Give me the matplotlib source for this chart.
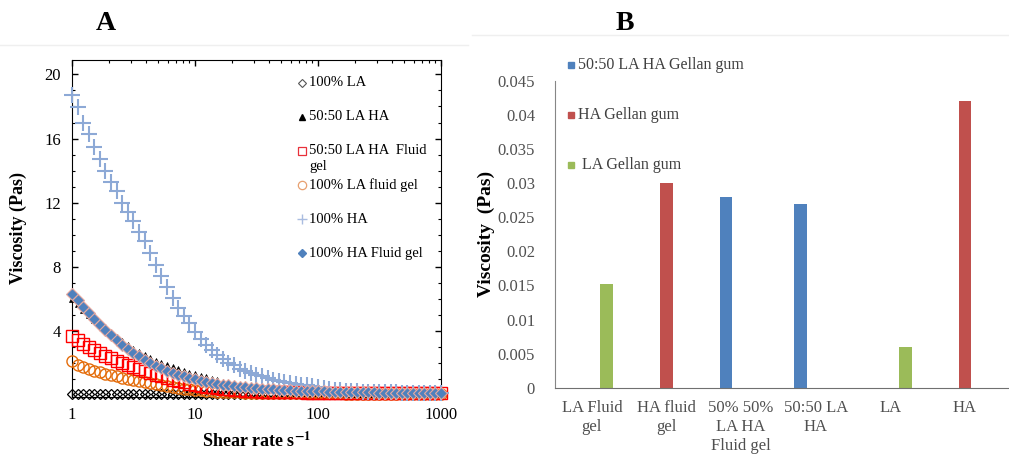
import matplotlib
matplotlib.use('Agg')
import matplotlib.pyplot as plt
from matplotlib.lines import Line2D

plt.rcParams['font.family'] = ['Liberation Serif', 'DejaVu Serif']
plt.rcParams['mathtext.fontset'] = 'stix'

# ---- panel A: flow curves (viscosity vs shear rate) ----
shear_rate = [1.00, 1.11, 1.23, 1.37, 1.52, 1.69, 1.87, 2.08, 2.31, 2.56, 2.85,
              3.16, 3.51, 3.90, 4.33, 4.81, 5.34, 5.93, 6.58, 7.31, 8.11, 9.01,
              10.0, 11.1, 12.3, 13.7, 15.2, 16.9, 18.7, 20.8, 23.1, 25.6, 28.5,
              31.6, 35.1, 39.0, 43.3, 48.1, 53.4, 59.3, 65.8, 73.1, 81.1, 90.1,
              100, 111, 123, 137, 152, 169, 187, 208, 231, 256, 285,
              316, 351, 390, 433, 481, 534, 593, 658, 731, 811, 901, 1000]

la_100 = [0.08, 0.08, 0.07, 0.07, 0.07, 0.07, 0.07, 0.07, 0.06, 0.06, 0.06,
          0.06, 0.06, 0.06, 0.06, 0.06, 0.06, 0.06, 0.06, 0.06, 0.06, 0.06,
          0.06, 0.06, 0.06, 0.06, 0.06, 0.06, 0.06, 0.06, 0.05, 0.05, 0.05,
          0.05, 0.05, 0.05, 0.05, 0.05, 0.05, 0.05, 0.05, 0.05, 0.05, 0.05,
          0.05, 0.05, 0.05, 0.05, 0.05, 0.05, 0.05, 0.05, 0.05, 0.05, 0.05,
          0.05, 0.05, 0.05, 0.05, 0.05, 0.05, 0.05, 0.05, 0.05, 0.05, 0.05, 0.05]

la_ha_5050 = [6.0, 5.65, 5.3, 5.0, 4.7, 4.4, 4.1, 3.85, 3.6, 3.35, 3.1,
              2.9, 2.7, 2.5, 2.32, 2.15, 2.0, 1.86, 1.73, 1.61, 1.5, 1.4,
              1.3, 1.2, 1.1, 1.0, 0.92, 0.84, 0.77, 0.7, 0.64, 0.58, 0.53,
              0.48, 0.44, 0.4, 0.37, 0.34, 0.31, 0.29, 0.27, 0.25, 0.23, 0.22,
              0.21, 0.2, 0.19, 0.18, 0.17, 0.16, 0.15, 0.15, 0.14, 0.14, 0.13,
              0.13, 0.12, 0.12, 0.12, 0.11, 0.11, 0.11, 0.1, 0.1, 0.1, 0.1, 0.1]

la_ha_5050_fg = [3.7, 3.45, 3.2, 3.0, 2.8, 2.62, 2.45, 2.3, 2.15, 2.0, 1.87,
                 1.74, 1.62, 1.5, 1.38, 1.27, 1.16, 1.06, 0.96, 0.87, 0.79, 0.72,
                 0.65, 0.59, 0.53, 0.48, 0.43, 0.39, 0.35, 0.32, 0.29, 0.27, 0.25,
                 0.23, 0.22, 0.21, 0.2, 0.19, 0.18, 0.18, 0.17, 0.17, 0.16, 0.16,
                 0.16, 0.15, 0.15, 0.15, 0.15, 0.14, 0.14, 0.14, 0.14, 0.14, 0.13,
                 0.13, 0.13, 0.13, 0.13, 0.13, 0.12, 0.12, 0.12, 0.12, 0.12, 0.12, 0.12]

la_fg = [2.1, 1.9, 1.76, 1.64, 1.53, 1.42, 1.33, 1.24, 1.16, 1.08, 1.01,
         0.94, 0.87, 0.8, 0.74, 0.68, 0.62, 0.56, 0.5, 0.45, 0.4, 0.36,
         0.32, 0.29, 0.26, 0.24, 0.22, 0.2, 0.19, 0.18, 0.17, 0.16, 0.15,
         0.15, 0.14, 0.14, 0.13, 0.13, 0.12, 0.12, 0.12, 0.11, 0.11, 0.11,
         0.1, 0.1, 0.1, 0.1, 0.1, 0.09, 0.09, 0.09, 0.09, 0.09, 0.09,
         0.08, 0.08, 0.08, 0.08, 0.08, 0.08, 0.08, 0.08, 0.08, 0.08, 0.08, 0.08]

ha_100 = [18.7, 17.95, 17.0, 16.3, 15.45, 14.75, 14.0, 13.3, 12.7, 12.0, 11.4,
          10.85, 10.2, 9.6, 8.85, 8.1, 7.4, 6.75, 6.05, 5.45, 4.95, 4.5,
          3.95, 3.5, 3.15, 2.8, 2.5, 2.25, 2.02, 1.85, 1.62, 1.52, 1.4,
          1.28, 1.17, 1.05, 0.95, 0.88, 0.82, 0.76, 0.71, 0.65, 0.6, 0.55,
          0.48, 0.43, 0.38, 0.34, 0.31, 0.28, 0.26, 0.24, 0.22, 0.21, 0.2,
          0.19, 0.18, 0.17, 0.17, 0.16, 0.16, 0.15, 0.15, 0.14, 0.14, 0.13, 0.13]

ha_fg = [6.3, 5.9, 5.5, 5.1, 4.75, 4.4, 4.05, 3.75, 3.45, 3.15, 2.9,
         2.65, 2.42, 2.2, 2.0, 1.83, 1.67, 1.53, 1.4, 1.28, 1.17, 1.07,
         0.98, 0.9, 0.83, 0.76, 0.7, 0.65, 0.6, 0.56, 0.52, 0.48, 0.45,
         0.42, 0.39, 0.37, 0.35, 0.33, 0.31, 0.29, 0.28, 0.27, 0.26, 0.25,
         0.24, 0.23, 0.22, 0.21, 0.2, 0.2, 0.19, 0.18, 0.18, 0.17, 0.17,
         0.16, 0.16, 0.15, 0.15, 0.15, 0.14, 0.14, 0.14, 0.13, 0.13, 0.13, 0.12]

# ---- panel B: bar chart ----
bar_labels = ['LA Fluid\ngel', 'HA fluid\ngel', '50% 50%\nLA HA\nFluid gel',
              '50:50 LA\nHA', 'LA', 'HA']
gg_5050 = [0, 0, 0.028, 0.027, 0, 0]
gg_ha = [0, 0.030, 0, 0, 0, 0.042]
gg_la = [0.0152, 0, 0, 0, 0.006, 0]
b_ticks = [0, 0.005, 0.01, 0.015, 0.02, 0.025, 0.03, 0.035, 0.04, 0.045]
b_ticklabels = ['0', '0.005', '0.01', '0.015', '0.02', '0.025', '0.03',
                '0.035', '0.04', '0.045']

W, H = 1009, 457
fig = plt.figure(figsize=(W / 100, H / 100), dpi=100)


def box(l, t, r, b):
    return [l / W, 1 - b / H, (r - l) / W, (b - t) / H]


# faint frames of the pasted panels
fig.add_artist(Line2D([0, 468 / W], [1 - 45 / H, 1 - 45 / H], color='#efefef', lw=1))
fig.add_artist(Line2D([472 / W, 1], [1 - 35 / H, 1 - 35 / H], color='#efefef', lw=1))

axA = fig.add_axes(box(72, 60, 441, 397))

styles = [
    # data, label, style, zorder
    (la_100, '100% LA', dict(marker='D', ms=5.5, mfc='none', mec='black', mew=0.9), 2),
    (la_fg, '100% LA fluid gel', dict(marker='o', ms=8, mfc='none', mec='#E46C0A', mew=1.0), 3),
    (la_ha_5050_fg, '50:50 LA HA  Fluid gel', dict(marker='s', ms=8, mfc='none', mec='#FF0000', mew=1.0), 4),
    (la_ha_5050, '50:50 LA HA', dict(marker='^', ms=4.5, mfc='black', mec='black', mew=0.5), 5),
    (ha_100, '100% HA', dict(marker='+', ms=11, mec='#8DA9D6', mew=1.5), 6),
    (ha_fg, '100% HA Fluid gel', dict(marker='D', ms=6, mfc='#4F81BD', mec='#E6A9A0', mew=0.8), 7),
]
for data, label, st, z in styles:
    axA.plot(shear_rate, data, linestyle='none', clip_on=False, zorder=z, **st)

axA.set_xscale('log')
axA.set_xlim(1, 1000)
axA.set_ylim(-0.12, 20.9)
axA.set_xticks([1, 10, 100, 1000])
axA.set_xticklabels(['1', '10', '100', '1000'])
axA.set_yticks([4, 8, 12, 16, 20])
axA.set_yticks(range(1, 21), minor=True)
axA.tick_params(which='both', direction='in', top=True, right=True, labelsize=12)
axA.tick_params(which='major', length=4, width=1)
axA.tick_params(which='minor', length=2.5, width=0.8)
axA.tick_params(axis='x', pad=7)
axA.tick_params(axis='y', pad=8)
axA.set_ylabel('Viscosity (Pas)', fontsize=13, fontweight='bold', labelpad=12)
axA.set_xlabel('Shear rate s$^{\\mathbf{-1}}$', fontsize=13, fontweight='bold', labelpad=6)

# legend of panel A, drawn by hand to keep the wide rows
leg_rows = [
    ('100% LA', dict(marker='D', ms=4, mfc='none', mec='#555555', mew=0.8), 0.932),
    ('50:50 LA HA', dict(marker='^', ms=4.5, mfc='black', mec='black'), 0.831),
    ('50:50 LA HA  Fluid', dict(marker='s', ms=6, mfc='none', mec='#E8303A', mew=0.9), 0.731),
    ('100% LA fluid gel', dict(marker='o', ms=6, mfc='none', mec='#E8A070', mew=0.9), 0.629),
    ('100% HA', dict(marker='+', ms=7, mec='#A9BCE0', mew=1.0), 0.528),
    ('100% HA Fluid gel', dict(marker='D', ms=4.5, mfc='#4F81BD', mec='#4F81BD'), 0.427),
]
for text, st, y in leg_rows:
    axA.plot([0.623], [y], transform=axA.transAxes, linestyle='none', **st)
    axA.text(0.643, y, text, transform=axA.transAxes, fontsize=10.5, va='center')
axA.text(0.643, 0.683, 'gel', transform=axA.transAxes, fontsize=10.5, va='center')

# ---- panel B ----
axB = fig.add_axes(box(554.5, 81, 1009, 387.7))
pos = list(range(len(bar_labels)))
w = 0.17
axB.bar([p - 0.2 for p in pos], gg_5050, width=w, color='#4F81BD')
axB.bar(pos, gg_ha, width=w, color='#C0504D')
axB.bar([p + 0.2 for p in pos], gg_la, width=w, color='#9BBB59')
axB.set_xlim(-0.5, 5.59)
axB.set_ylim(0, 0.045)
axB.set_yticks(b_ticks)
axB.set_yticklabels(b_ticklabels)
axB.set_xticks(pos)
axB.set_xticklabels(bar_labels, linespacing=1.25)
axB.tick_params(length=0, labelsize=12, labelcolor='#505050')
axB.tick_params(axis='y', pad=14)
axB.tick_params(axis='x', pad=9)
for s in ['top', 'right']:
    axB.spines[s].set_visible(False)
axB.spines['left'].set_color('#868686')
axB.spines['bottom'].set_color('#707070')
axB.set_ylabel('Viscosity  (Pas)', fontsize=14, fontweight='bold', labelpad=2)

leg_b = [('50:50 LA HA Gellan gum', '#4F81BD', 65),
         ('HA Gellan gum', '#C0504D', 115),
         (' LA Gellan gum', '#9BBB59', 165)]
for text, col, y in leg_b:
    fig.add_artist(Line2D([571 / W], [1 - y / H], marker='s', ms=5, color=col, linestyle='none'))
    fig.text(578 / W, 1 - y / H, text, fontsize=11.5, color='#404040', va='center')

fig.text(106 / W, 1 - 23 / H, 'A', fontsize=20, fontweight='bold', ha='center', va='center')
fig.text(625 / W, 1 - 23 / H, 'B', fontsize=20, fontweight='bold', ha='center', va='center')

fig.savefig('out.png', dpi=100)
